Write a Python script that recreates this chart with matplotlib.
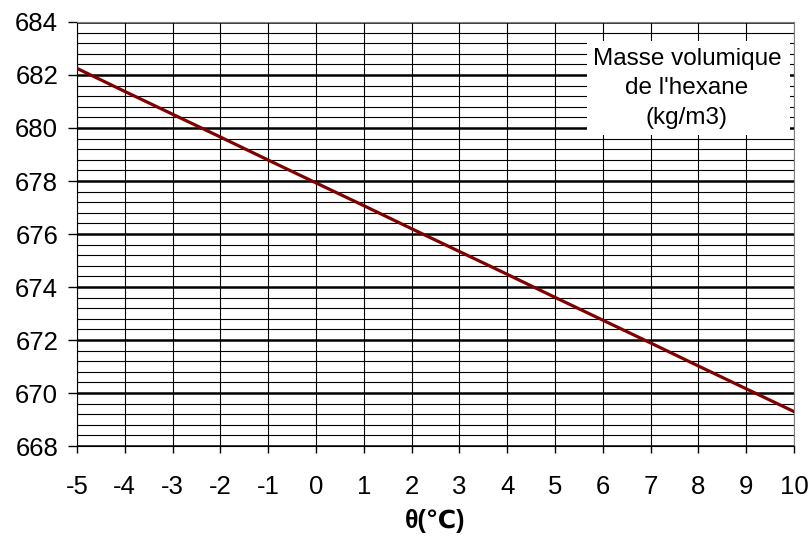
import matplotlib.pyplot as plt
from matplotlib.ticker import MultipleLocator
from matplotlib.patches import Rectangle

# Temperature (°C) and density of hexane (kg/m3)
theta = [-5, -4, -3, -2, -1, 0, 1, 2, 3, 4, 5, 6, 7, 8, 9, 10]
rho = [682.25, 681.38, 680.52, 679.66, 678.79, 677.93, 677.07, 676.20,
       675.34, 674.48, 673.61, 672.75, 671.89, 671.02, 670.16, 669.30]

plt.rcParams['font.family'] = ['Liberation Sans', 'DejaVu Sans']
plt.rcParams['axes.unicode_minus'] = False

fig = plt.figure(figsize=(8.12, 5.43), dpi=100)
ax = fig.add_axes([0.0948, 0.1786, 0.8830, 0.7809])

ax.set_xlim(-5, 10)
ax.set_ylim(668, 684)

ax.xaxis.set_major_locator(MultipleLocator(1))
ax.yaxis.set_major_locator(MultipleLocator(2))
ax.yaxis.set_minor_locator(MultipleLocator(0.4))

# grid
ax.grid(True, which='major', axis='y', color='black', lw=1.8)
ax.grid(True, which='minor', axis='y', color='black', lw=0.8)
ax.grid(True, which='major', axis='x', color='black', lw=0.8)
ax.set_axisbelow(True)

ax.plot(theta, rho, color='#800000', lw=2.3, zorder=3)

# legend-like text box
ax.add_patch(Rectangle((5.67, 679.74), 4.25, 3.54, facecolor='white',
                       edgecolor='none', zorder=4))
ax.text(7.76, 681.5, "Masse volumique\nde l'hexane\n(kg/m3)", ha='center',
        va='center', fontsize=17.5, linespacing=1.44, zorder=5)

ax.tick_params(axis='y', which='major', length=6.5, width=1, pad=7,
               labelsize=18.5, direction='out')
ax.tick_params(axis='y', which='minor', length=0)
ax.tick_params(axis='x', which='major', length=5, width=1, pad=16,
               labelsize=18.5, direction='out')

for side in ['top', 'right']:
    ax.spines[side].set_color('#808080')
ax.spines['left'].set_color('black')
ax.spines['bottom'].set_color('black')

ax.set_xlabel('θ(℃)', fontsize=18, fontweight='bold', labelpad=7)

fig.savefig('out.png', dpi=100)
